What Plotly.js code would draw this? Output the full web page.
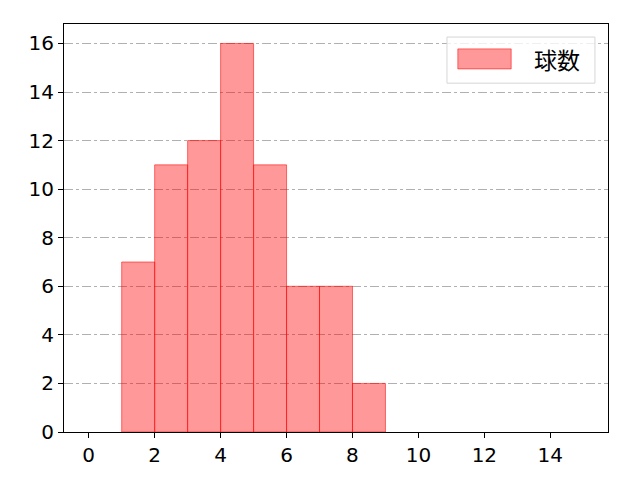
<!DOCTYPE html>
<html>
<head>
<meta charset="utf-8">
<script src="https://cdn.plot.ly/plotly-3.0.1.min.js"></script>
<style>
  html, body { margin: 0; padding: 0; background: #fff; }
  #chart { width: 640px; height: 480px; }
</style>
</head>
<body>
<div id="chart"></div>
<script>
// Pitch-count histogram: one-unit bins, counts per bin.
const binStarts = [1, 2, 3, 4, 5, 6, 7, 8];
const counts    = [7, 11, 12, 16, 11, 6, 6, 2];
const seriesName = "球数";
const xTicks = [0, 2, 4, 6, 8, 10, 12, 14];
const yTicks = [0, 2, 4, 6, 8, 10, 12, 14, 16];

const TICK_FONT = '"DejaVu Sans", sans-serif';
const CJK_FONT = '"Noto Sans CJK JP", "DejaVu Sans", sans-serif';

const trace = {
  type: "bar",
  x: binStarts.map(b => b + 0.5),
  y: counts,
  width: 1,
  name: seriesName,
  showlegend: false,
  marker: {
    color: "rgba(255,0,0,0.4)",
    line: { color: "rgba(255,0,0,0.55)", width: 1 }
  },
  hoverinfo: "x+y"
};

const axisCommon = {
  showline: true, linecolor: "#000", linewidth: 1, mirror: true,
  ticks: "outside", ticklen: 5, tickcolor: "#000", tickwidth: 1,
  zeroline: false,
  tickfont: { family: TICK_FONT, size: 20, color: "#000" }
};

const layout = {
  width: 640, height: 480,
  margin: { l: 64, r: 32, t: 24, b: 48, pad: 0 },
  paper_bgcolor: "#fff", plot_bgcolor: "#fff",
  font: { family: TICK_FONT },
  bargap: 0,
  xaxis: Object.assign({}, axisCommon, {
    range: [-0.75, 15.75], tickvals: xTicks, showgrid: false
  }),
  yaxis: Object.assign({}, axisCommon, {
    range: [0, 16.8], tickvals: yTicks,
    showgrid: true, gridcolor: "#b0b0b0", gridwidth: 1, griddash: "dashdot"
  }),
  shapes: [
    { type: "rect", xref: "paper", yref: "paper",
      x0: 0.704, x1: 0.976, y0: 0.855, y1: 0.968,
      fillcolor: "rgba(255,255,255,0.8)", line: { color: "#d6d6d6", width: 1 } },
    { type: "rect", xref: "paper", yref: "paper",
      x0: 0.724, x1: 0.822, y0: 0.890, y1: 0.939,
      fillcolor: "rgba(255,0,0,0.4)", line: { color: "rgba(255,0,0,0.55)", width: 1 } }
  ],
  annotations: [
    { xref: "paper", yref: "paper", x: 0.906, y: 0.914,
      text: seriesName, showarrow: false, xanchor: "center", yanchor: "middle",
      font: { family: CJK_FONT, size: 23, color: "#000" } }
  ]
};

Plotly.newPlot("chart", [trace], layout, { displayModeBar: false, staticPlot: true });
</script>
</body>
</html>
